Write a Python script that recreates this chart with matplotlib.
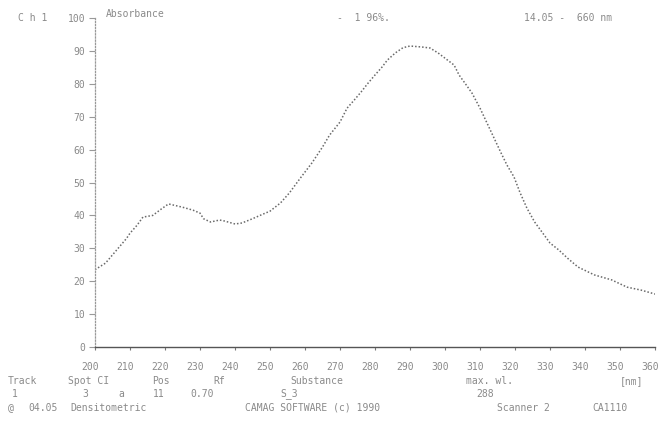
import matplotlib
matplotlib.use("Agg")
import matplotlib.pyplot as plt
import matplotlib.transforms as mtransforms

# Data (wavelength nm, absorbance %)
wavelength = [200, 203, 205, 207.4, 209, 210, 212, 213.7, 216.5, 219, 221, 223, 225, 228, 230,
              231, 233, 235.6, 237, 240, 242, 245, 248, 250, 253, 255.5, 258.7, 262, 265, 267,
              270, 272, 274, 276, 278, 280, 282, 283.5, 285.8, 288, 290, 293.4, 295.7, 298, 300,
              302.6, 304, 305.7, 307.7, 310, 316, 317.7, 319.7, 321.4, 323.4, 325.6, 330, 332.5,
              335, 338, 342.7, 347.6, 352, 356, 360]
absorbance = [23.5, 25.5, 28, 31, 33, 34.6, 37, 39.5, 40, 42, 43.5, 43, 42.5, 41.6, 40.7,
              39, 38, 38.6, 38.3, 37.4, 37.7, 39, 40.4, 41.3, 43.8, 46.8, 51.4, 56, 60.8, 64.4,
              68.4, 72.6, 75, 77.5, 80.2, 82.7, 85.1, 87.2, 89.4, 91, 91.5, 91.2, 90.9, 89.4, 87.8,
              85.7, 82.7, 80.2, 77.2, 72.6, 59, 55.3, 51.7, 47, 42.2, 38, 31.6, 29.5,
              27, 24.3, 21.9, 20.4, 18.2, 17.3, 16.1]
x_ticks = list(range(200, 361, 10))
y_ticks = list(range(0, 101, 10))

TXT = "#8a8a8a"
FONT = "DejaVu Sans Mono"
W, H = 662, 430

fig = plt.figure(figsize=(6.62, 4.30), dpi=100)
ax = fig.add_axes([0.1435, 0.193, 0.846, 0.765])
ax.plot(wavelength, absorbance, linestyle=(0, (1, 1.3)), color="#6a6a6a", linewidth=1.1)

ax.set_xlim(200, 360)
ax.set_ylim(0, 100)
ax.set_xticks(x_ticks)
ax.set_yticks(y_ticks)
ax.set_xticklabels([str(v) for v in x_ticks], fontsize=7, color=TXT, family=FONT)
ax.set_yticklabels([str(v) for v in y_ticks], fontsize=7, color=TXT, family=FONT)
ax.tick_params(axis="x", length=2, color="#777777", pad=9)
ax.tick_params(axis="y", length=4, color="#999999", pad=3)
shift = mtransforms.ScaledTranslation(-5 / 100, 0, fig.dpi_scale_trans)
for lab in ax.get_xticklabels():
    lab.set_transform(lab.get_transform() + shift)

for s in ["top", "right"]:
    ax.spines[s].set_visible(False)
ax.spines["left"].set_linestyle((0, (1, 1.5)))
ax.spines["left"].set_color("#999999")
ax.spines["left"].set_linewidth(0.9)
ax.spines["bottom"].set_color("#555555")
ax.spines["bottom"].set_linewidth(1.0)
ax.spines["bottom"].set_linestyle((0, (6, 1)))


def put(xpx, ypx, s):
    fig.text(xpx / W, 1 - ypx / H, s, fontsize=7, color=TXT, family=FONT, va="center")


# header texts
put(18, 18, "C h 1")
put(106, 14, "Absorbance")
put(337, 18, "-  1 96%.")
put(524, 18, "14.05 -  660 nm")

# footer texts
for xpx, s in [(8, "Track"), (68, "Spot CI"), (152, "Pos"), (213, "Rf"),
               (290, "Substance"), (466, "max. wl."), (620, "[nm]")]:
    put(xpx, 381, s)
for xpx, s in [(12, "1"), (82, "3"), (118, "a"), (153, "11"), (190, "0.70"),
               (280, "S_3"), (476, "288")]:
    put(xpx, 394, s)
for xpx, s in [(8, "@"), (28, "04.05"), (70, "Densitometric"),
               (245, "CAMAG SOFTWARE (c) 1990"), (497, "Scanner 2"), (592, "CA1110")]:
    put(xpx, 408, s)

fig.savefig("out.png", dpi=100, facecolor="white")
